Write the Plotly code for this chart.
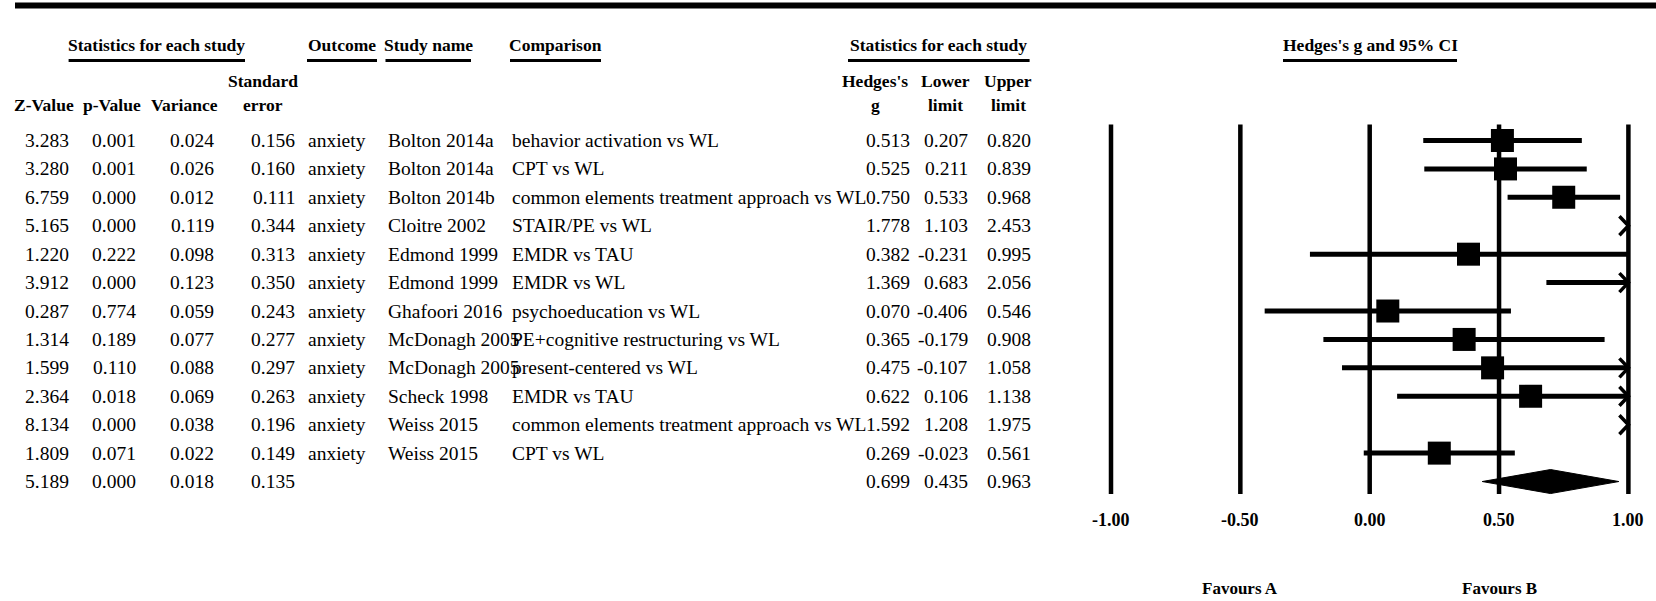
import plotly.graph_objects as go

# ---------------- data ----------------
z_values = [3.283, 3.280, 6.759, 5.165, 1.220, 3.912, 0.287, 1.314, 1.599, 2.364, 8.134, 1.809, 5.189]
p_values = [0.001, 0.001, 0.000, 0.000, 0.222, 0.000, 0.774, 0.189, 0.110, 0.018, 0.000, 0.071, 0.000]
variances = [0.024, 0.026, 0.012, 0.119, 0.098, 0.123, 0.059, 0.077, 0.088, 0.069, 0.038, 0.022, 0.018]
std_errors = [0.156, 0.160, 0.111, 0.344, 0.313, 0.350, 0.243, 0.277, 0.297, 0.263, 0.196, 0.149, 0.135]
outcomes = ["anxiety"] * 12 + [""]
study_names = ["Bolton 2014a", "Bolton 2014a", "Bolton 2014b", "Cloitre 2002", "Edmond 1999",
               "Edmond 1999", "Ghafoori 2016", "McDonagh 2005", "McDonagh 2005", "Scheck 1998",
               "Weiss 2015", "Weiss 2015", ""]
comparisons = ["behavior activation vs WL", "CPT vs WL", "common elements treatment approach vs WL",
               "STAIR/PE vs WL", "EMDR vs TAU", "EMDR vs WL", "psychoeducation vs WL",
               "PE+cognitive restructuring vs WL", "present-centered vs WL", "EMDR vs TAU",
               "common elements treatment approach vs WL", "CPT vs WL", ""]
hedges_g = [0.513, 0.525, 0.750, 1.778, 0.382, 1.369, 0.070, 0.365, 0.475, 0.622, 1.592, 0.269, 0.699]
lower_limits = [0.207, 0.211, 0.533, 1.103, -0.231, 0.683, -0.406, -0.179, -0.107, 0.106, 1.208, -0.023, 0.435]
upper_limits = [0.820, 0.839, 0.968, 2.453, 0.995, 2.056, 0.546, 0.908, 1.058, 1.138, 1.975, 0.561, 0.963]
tick_values = [-1.0, -0.5, 0.0, 0.5, 1.0]
tick_labels = ["-1.00", "-0.50", "0.00", "0.50", "1.00"]

# ---------------- layout helpers ----------------
W, H = 1656, 601
ROW0_PX, ROW_STEP = 140.5, 28.42
X_LEFT_PX, X_RIGHT_PX = 1111.0, 1628.4      # pixel of x=-1 and x=+1
AX_MIN, AX_MAX = -1.1, 1.1
scale = (X_RIGHT_PX - X_LEFT_PX) / 2.0


def row_of(py):
    return 1 + (py - ROW0_PX) / ROW_STEP


def px(x):
    return x / W


FONT = "Liberation Serif"
n = len(hedges_g)
rows = list(range(1, n + 1))
study_rows = rows[:-1]
summary_row = rows[-1]

fig = go.Figure()

# CI lines (drawn up to the edge of the axis at +1)
cx, cy = [], []
for r, lo, hi in zip(study_rows, lower_limits[:-1], upper_limits[:-1]):
    if lo >= tick_values[-1]:
        continue
    cx += [max(lo, tick_values[0]), min(hi, tick_values[-1]), None]
    cy += [r, r, None]
fig.add_trace(go.Scatter(x=cx, y=cy, mode="lines", line=dict(color="black", width=5),
                         hoverinfo="skip", showlegend=False))

# arrows for CIs extending past +1
ax_, ay_ = [], []
dx, dy = 9 / scale, 9.5 / ROW_STEP
for r, hi in zip(study_rows, upper_limits[:-1]):
    if hi > tick_values[-1]:
        e = tick_values[-1]
        ax_ += [e - dx, e, e - dx, None]
        ay_ += [r - dy, r, r + dy, None]
fig.add_trace(go.Scatter(x=ax_, y=ay_, mode="lines", line=dict(color="black", width=3.5),
                         hoverinfo="skip", showlegend=False))

# study squares (only those inside the axis)
sq = [(g, r) for g, r in zip(hedges_g[:-1], study_rows) if g <= tick_values[-1]]
fig.add_trace(go.Scatter(x=[g for g, _ in sq], y=[r for _, r in sq], mode="markers",
                         marker=dict(symbol="square", size=23, color="black", line=dict(width=0)),
                         hoverinfo="skip", showlegend=False))

# summary diamond
hd = 12 / ROW_STEP
g0, lo0, hi0 = hedges_g[-1], lower_limits[-1], upper_limits[-1]
fig.add_trace(go.Scatter(x=[lo0, g0, hi0, g0, lo0], y=[summary_row, summary_row - hd, summary_row,
                                                       summary_row + hd, summary_row],
                         mode="lines", fill="toself", fillcolor="black",
                         line=dict(color="black", width=1), hoverinfo="skip", showlegend=False))

shapes = []
# vertical reference lines
for tv in tick_values:
    shapes.append(dict(type="line", xref="x", yref="y", x0=tv, x1=tv,
                       y0=row_of(124.6), y1=row_of(494), layer="below",
                       line=dict(color="black", width=4.5)))
# top thick rule
shapes.append(dict(type="line", xref="paper", yref="paper", x0=px(15), x1=1.0,
                   y0=1 - 5.5 / H, y1=1 - 5.5 / H, line=dict(color="black", width=6)))

annotations = []


def txt(x_px, y, text, anchor, size=19.5, bold=False, yref="y"):
    annotations.append(dict(xref="paper", yref=yref, x=px(x_px), y=y,
                            text=f"<b>{text}</b>" if bold else text,
                            xanchor=anchor, yanchor="middle", showarrow=False,
                            font=dict(family=FONT, size=size, color="black")))


# headers row 1 with underlines
hdr_y = row_of(45.4)
ul_y = 1 - 60.5 / H
headers = [("Statistics for each study", 68.6, 245.0), ("Outcome", 307.0, 377.0),
           ("Study name", 385.5, 471.0), ("Comparison", 510.0, 601.0),
           ("Statistics for each study", 848.0, 1029.6), ("Hedges's g and 95% CI", 1283.0, 1457.0)]
for label, x0, x1 in headers:
    txt((x0 + x1) / 2, hdr_y, label, "center", size=17.5, bold=True)
    shapes.append(dict(type="line", xref="paper", yref="paper", x0=px(x0), x1=px(x1),
                       y0=ul_y, y1=ul_y, line=dict(color="black", width=3)))

# column headers
l1, l2 = row_of(80.5), row_of(104.5)
col_hdrs = [(44, None, "Z-Value"), (112, None, "p-Value"), (184, None, "Variance"),
            (263, "Standard", "error"), (875, "Hedges's", "g"), (945, "Lower", "limit"),
            (1008, "Upper", "limit")]
for cx_, a, b in col_hdrs:
    if a:
        txt(cx_, l1, a, "center", size=17.5, bold=True)
    txt(cx_, l2, b, "center", size=17.5, bold=True)

# data columns
columns = [(z_values, 71.0, "right", True), (p_values, 137.5, "right", True),
           (variances, 216.0, "right", True), (std_errors, 296.5, "right", True),
           (outcomes, 305.5, "left", False), (study_names, 385.5, "left", False),
           (comparisons, 510.0, "left", False), (hedges_g, 912.0, "right", True),
           (lower_limits, 970.0, "right", True), (upper_limits, 1033.0, "right", True)]
for values, xpos, anchor, numeric in columns:
    for r, v in zip(rows, values):
        if v == "":
            continue
        txt(xpos, r, f"{v:.3f}" if numeric else v, anchor)

# tick labels and favours labels
for tv, tl in zip(tick_values, tick_labels):
    annotations.append(dict(xref="x", yref="y", x=tv, y=row_of(519.5), text=f"<b>{tl}</b>",
                            xanchor="center", yanchor="middle", showarrow=False,
                            font=dict(family=FONT, size=18, color="black")))
for tv, lab in [(-0.5, "Favours A"), (0.5, "Favours B")]:
    annotations.append(dict(xref="x", yref="y", x=tv, y=row_of(588), text=f"<b>{lab}</b>",
                            xanchor="center", yanchor="middle", showarrow=False,
                            font=dict(family=FONT, size=17, color="black")))

fig.update_layout(
    width=W, height=H, autosize=False,
    margin=dict(l=0, r=0, t=0, b=0, pad=0),
    paper_bgcolor="white", plot_bgcolor="white",
    showlegend=False,
    xaxis=dict(range=[AX_MIN, AX_MAX],
               domain=[(X_LEFT_PX + (AX_MIN + 1) * scale) / W, (X_LEFT_PX + (AX_MAX + 1) * scale) / W],
               visible=False, fixedrange=True),
    yaxis=dict(range=[row_of(H), row_of(0)], domain=[0, 1], visible=False, fixedrange=True),
    shapes=shapes, annotations=annotations,
)

fig.write_html("out.html", config={"displayModeBar": False},
               post_script="document.body.style.margin='0';document.body.style.overflow='hidden';")
